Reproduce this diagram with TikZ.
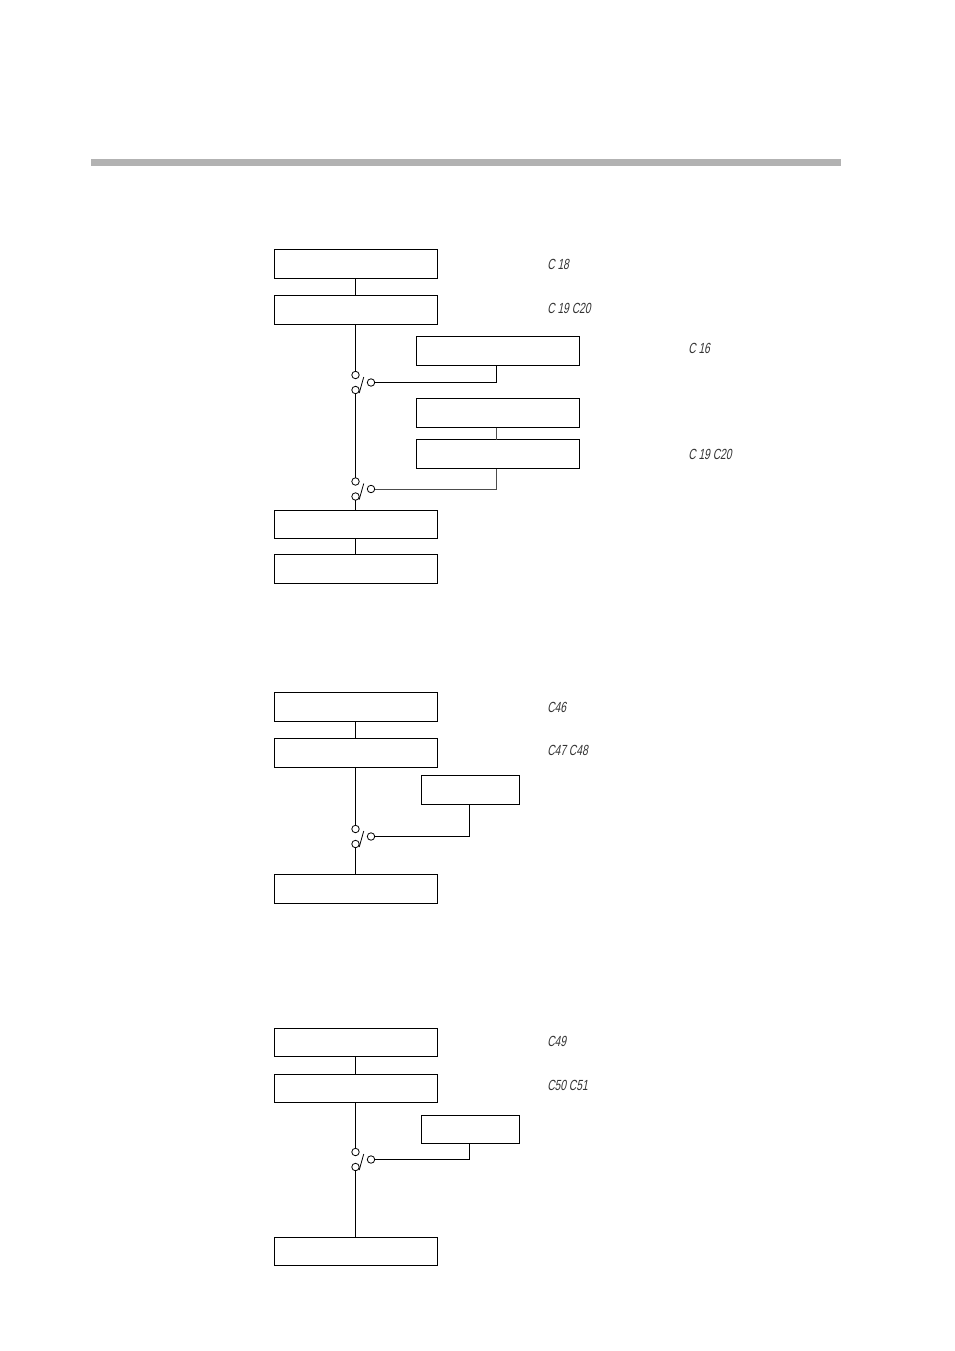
\documentclass[tikz,border=0pt]{standalone}
\usepackage{fontspec}
\usepackage{tikz}
\usetikzlibrary{calc}
\newfontfamily\segfont[FakeStretch=0.7,FakeSlant=0.2]{Liberation Sans}
\tikzset{
  panel/.style={draw, line width=0.75pt, minimum width=122.25pt, minimum height=21.75pt, inner sep=0pt, outer sep=0pt},
  panelthin/.style={panel, minimum height=21pt},
  panelshort/.style={panel, minimum width=73.5pt},
  contact/.style={circle, draw, line width=0.6pt, minimum size=5.6pt, inner sep=0pt, outer sep=0pt},
  seg/.style={font=\segfont\fontsize{11}{11}\selectfont, anchor=west, inner sep=0pt, text=black!80},
  wire/.style={line width=0.75pt}
}
% contact pair: top, bottom, right and the blade
\newcommand{\contactset}[2]{
  \node[contact] (#1t) at (355.5,#2-7.5) {};
  \node[contact] (#1b) at (355.5,#2+7.5) {};
  \node[contact] (#1r) at (371,#2) {};
  \draw[line width=0.6pt] ($(#1b.east)+(0,3)$) -- ($(#1b.east)+(4.5,-13)$);
}
\begin{document}
\begin{tikzpicture}[x=0.75pt, y=-0.75pt]
  \useasboundingbox (0,0) rectangle (954,1351);
  % header bar
  \fill[black!30] (91,159) rectangle (841,166);

  % first group
  \node[panel] (topa) at (355.5,264) {};
  \node[panel] (seta) at (355.5,310) {};
  \node[panel] (opta) at (497.5,351) {};
  \node[panel] (optb) at (498,413) {};
  \node[panel] (optc) at (498,454) {};
  \node[panelthin] (enda) at (355.5,524) {};
  \node[panel] (endb) at (355.5,569) {};
  \contactset{swa}{382.5}
  \contactset{swb}{489}
  \draw[wire] (topa) -- (seta);
  \draw[wire] (seta) -- (swat);
  \draw[wire] (swab) -- (swbt);
  \draw[wire] (swbb) -- (enda);
  \draw[wire] (enda) -- (endb);
  \draw[wire] (swar) -| ($(opta.south)+(-1,0)$);
  \draw[wire, black!70] ($(optb.south)+(-1.5,0)$) -- ($(optc.north)+(-1.5,0)$);
  \draw[wire, black!70] (swbr) -| ($(optc.south)+(-1.5,0)$);
  \node[seg] (laba) at (547,264) {C 18};
  \node[seg] (labb) at (547,308.5) {C 19 C20};
  \node[seg] (labc) at (688,348.5) {C 16};
  \node[seg] (labd) at (688,454.5) {C 19 C20};

  % second group
  \node[panel] (topb) at (355.5,707) {};
  \node[panel] (setb) at (355.5,753) {};
  \node[panelshort] (optd) at (470.5,790) {};
  \node[panel] (endc) at (355.5,889) {};
  \contactset{swc}{836.5}
  \draw[wire] (topb) -- (setb);
  \draw[wire] (setb) -- (swct);
  \draw[wire] (swcb) -- (endc);
  \draw[wire] (swcr) -| ($(optd.south)+(-1,0)$);
  \node[seg] (labe) at (547,707) {C46};
  \node[seg] (labf) at (547,750.5) {C47 C48};

  % third group
  \node[panelthin] (topc) at (355.5,1042) {};
  \node[panelthin] (setc) at (355.5,1088) {};
  \node[panelthin, panelshort, minimum height=21pt] (opte) at (470.5,1129) {};
  \node[panelthin] (endd) at (355.5,1251) {};
  \contactset{swd}{1159.5}
  \draw[wire] (topc) -- (setc);
  \draw[wire] (setc) -- (swdt);
  \draw[wire] (swdb) -- (endd);
  \draw[wire] (swdr) -| ($(opte.south)+(-1,0)$);
  \node[seg] (labg) at (547,1041) {C49};
  \node[seg] (labh) at (547,1085) {C50 C51};
\end{tikzpicture}
\end{document}
